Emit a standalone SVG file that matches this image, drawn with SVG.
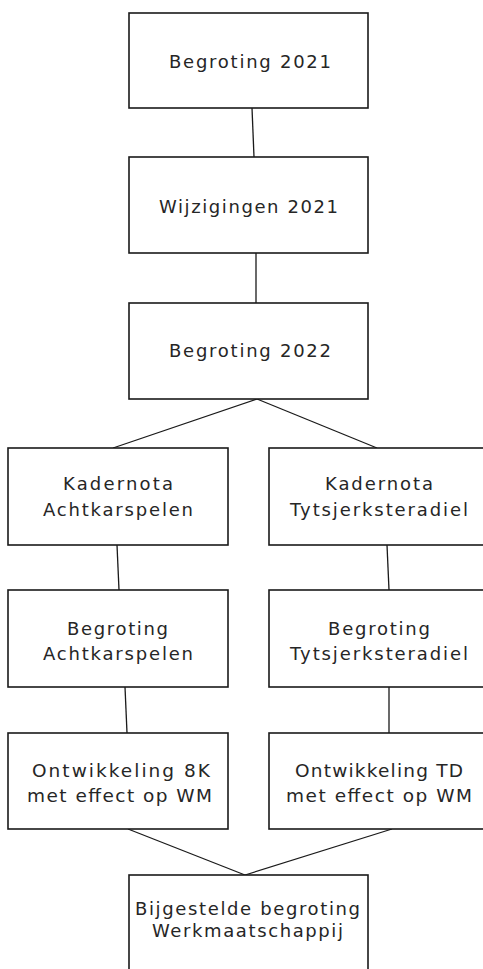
<svg xmlns="http://www.w3.org/2000/svg" width="483" height="969" viewBox="0 0 483 969">
<style>
.box{fill:#fff;stroke:#1a1a1a;stroke-width:1.6}
.ln{stroke:#1a1a1a;stroke-width:1.3;fill:none}
text{font-family:"DejaVu Sans",Verdana,sans-serif;font-size:18px;fill:#262626;text-anchor:middle}
.big{font-size:18.5px}
</style>
<rect width="483" height="969" fill="#fff"/>
<g id="connectors">
<line class="ln" x1="252" y1="108" x2="254" y2="157"/>
<line class="ln" x1="256" y1="253" x2="256" y2="303"/>
<line class="ln" x1="257" y1="399" x2="113" y2="448"/>
<line class="ln" x1="257" y1="399" x2="377" y2="448"/>
<line class="ln" x1="117" y1="545" x2="119" y2="590"/>
<line class="ln" x1="387" y1="545" x2="389" y2="590"/>
<line class="ln" x1="125" y1="687" x2="127" y2="733"/>
<line class="ln" x1="389" y1="687" x2="389" y2="733"/>
<line class="ln" x1="128" y1="829" x2="245" y2="875"/>
<line class="ln" x1="392" y1="829" x2="245" y2="875"/>
</g>
<g id="begroting2021">
<rect class="box" x="129" y="13" width="239" height="95"/>
<text x="250" y="68" textLength="162" lengthAdjust="spacing">Begroting 2021</text>
</g>
<g id="wijzigingen2021">
<rect class="box" x="129" y="157" width="239" height="96"/>
<text x="248.5" y="213" textLength="179" lengthAdjust="spacing">Wijzigingen 2021</text>
</g>
<g id="begroting2022">
<rect class="box" x="129" y="303" width="239" height="96"/>
<text x="250" y="357" textLength="162" lengthAdjust="spacing">Begroting 2022</text>
</g>
<g id="kadernotaA">
<rect class="box" x="8" y="448" width="220" height="97"/>
<text x="118" y="490" textLength="110" lengthAdjust="spacing">Kadernota</text>
<text x="118" y="516" textLength="150" lengthAdjust="spacing">Achtkarspelen</text>
</g>
<g id="kadernotaT">
<rect class="box" x="269" y="448" width="220" height="97"/>
<text x="379" y="490" textLength="108" lengthAdjust="spacing">Kadernota</text>
<text x="379" y="516" textLength="178" lengthAdjust="spacing">Tytsjerksteradiel</text>
</g>
<g id="begrotingA">
<rect class="box" x="8" y="590" width="220" height="97"/>
<text x="117.5" y="635" textLength="101" lengthAdjust="spacing">Begroting</text>
<text x="118" y="660" textLength="150" lengthAdjust="spacing">Achtkarspelen</text>
</g>
<g id="begrotingT">
<rect class="box" x="269" y="590" width="220" height="97"/>
<text x="379" y="635" textLength="102" lengthAdjust="spacing">Begroting</text>
<text x="379" y="660" textLength="178" lengthAdjust="spacing">Tytsjerksteradiel</text>
</g>
<g id="ontwikkeling8K">
<rect class="box" x="8" y="733" width="220" height="96"/>
<text class="big" x="121" y="777" textLength="178" lengthAdjust="spacing">Ontwikkeling 8K</text>
<text class="big" x="119.5" y="802" textLength="185" lengthAdjust="spacing">met effect op WM</text>
</g>
<g id="ontwikkelingTD">
<rect class="box" x="269" y="733" width="220" height="96"/>
<text class="big" x="379" y="777" textLength="168" lengthAdjust="spacing">Ontwikkeling TD</text>
<text class="big" x="379" y="802" textLength="186" lengthAdjust="spacing">met effect op WM</text>
</g>
<g id="bijgestelde">
<rect class="box" x="129" y="875" width="239" height="100"/>
<text x="247.5" y="915" textLength="225" lengthAdjust="spacing">Bijgestelde begroting</text>
<text x="247.5" y="937" textLength="191" lengthAdjust="spacing">Werkmaatschappij</text>
</g>
</svg>
